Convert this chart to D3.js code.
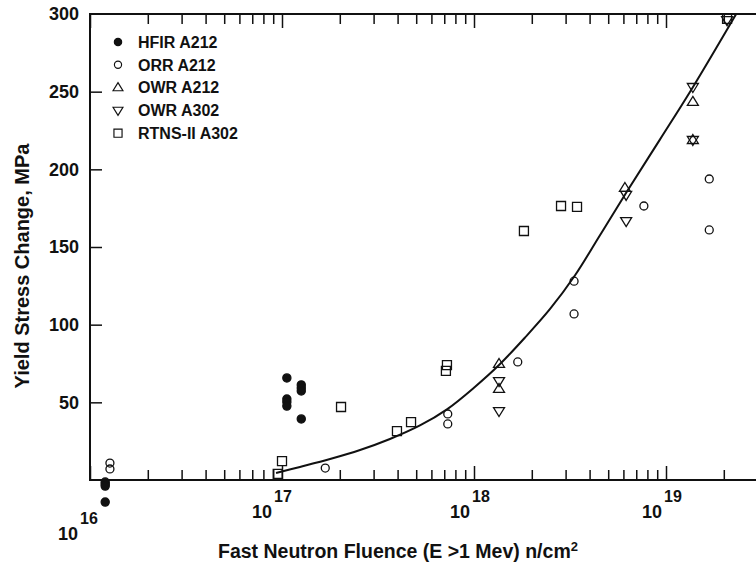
<!DOCTYPE html>
<html>
<head>
<meta charset="utf-8">
<script src="https://cdn.jsdelivr.net/npm/d3@7"></script>
<style>
  body { margin: 0; background: #fff; }
  text { font-family: "Liberation Sans", Arial, Helvetica, sans-serif; font-weight: bold; fill: #111; }
</style>
</head>
<body>
<div id="chart"></div>
<script>
// fluence (n/cm2) and yield stress change (MPa)
var hfirX = [1.2e16, 1.2e16, 1.2e16, 1.2e16, 1.06e17, 1.06e17, 1.06e17, 1.06e17, 1.26e17, 1.26e17, 1.26e17, 1.26e17];
var hfirY = [-1.3, -2.6, -3.9, -14.2, 65.7, 52.1, 50.2, 47.6, 61.2, 59.2, 57.3, 39.3];

var orrX = [1.27e16, 1.27e16, 1.68e17, 7.3e17, 7.3e17, 1.69e18, 3.32e18, 3.32e18, 7.67e18, 1.68e19, 1.68e19];
var orrY = [10.9, 7.1, 7.7, 42.5, 36.1, 76, 128, 106.9, 176.4, 193.8, 161];

var owr212X = [1.35e18, 1.35e18, 6.11e18, 1.38e19, 1.38e19];
var owr212Y = [74.7, 58.6, 188, 243.4, 218.9];

var owr302X = [1.35e18, 1.35e18, 6.2e18, 6.2e18, 1.38e19, 1.38e19, 2.08e19];
var owr302Y = [63.7, 44.4, 183.5, 166.7, 253, 218.9, 296];

var rtnsX = [9.5e16, 1.0e17, 2.03e17, 3.97e17, 4.7e17, 7.23e17, 7.14e17, 1.82e18, 2.84e18, 3.44e18, 2.08e19];
var rtnsY = [3.9, 12.2, 47, 31.5, 37.3, 74, 70.2, 160.3, 176.4, 175.8, 296.8];

// fitted trend line
var fitX = [9.31e16, 1.24e17, 1.78e17, 2.55e17, 3.65e17, 5.23e17, 7.23e17, 1.01e18, 1.35e18, 1.84e18, 2.49e18, 3.36e18, 4.53e18, 6.26e18, 9.31e18, 1.38e19, 2.32e19];
var fitY = [4.5, 8.4, 13.5, 19.3, 26.4, 35.1, 45.5, 59.9, 74.0, 91.6, 110.1, 131.8, 157.6, 185.7, 219.3, 252.9, 300];

var legendNames = ["HFIR A212", "ORR A212", "OWR A212", "OWR A302", "RTNS-II A302"];
var yTicks = [50, 100, 150, 200, 250, 300];
var decades = [1e16, 1e17, 1e18, 1e19];
var decadeExp = ["16", "17", "18", "19"];

var W = 756, H = 563;
var plotL = 90, plotR = 756, plotT = 14, plotB = 480;

var x = d3.scaleLog().domain([1e16, 1e19]).range([plotL, 666]);
var y = d3.scaleLinear().domain([0, 300]).range([plotB, plotT]);

var svg = d3.select("#chart").append("svg")
  .attr("width", W)
  .attr("height", H);

svg.append("rect").attr("width", W).attr("height", H).attr("fill", "#fff");

// symbol shapes
var shapes = {
  filled: d3.symbol().type(d3.symbolCircle).size(52)(),
  circle: d3.symbol().type(d3.symbolCircle).size(50)(),
  up: "M0,-5.5L5.5,3.5L-5.5,3.5Z",
  down: "M0,5.5L5.5,-3.5L-5.5,-3.5Z",
  square: "M-4.5,-4.5h9v9h-9Z"
};
var series = [
  { xs: hfirX, ys: hfirY, shape: "filled" },
  { xs: orrX, ys: orrY, shape: "circle" },
  { xs: owr212X, ys: owr212Y, shape: "up" },
  { xs: owr302X, ys: owr302Y, shape: "down" },
  { xs: rtnsX, ys: rtnsY, shape: "square" }
];

// minor + major ticks for log axis
var logTicks = [];
for (var e = 16; e <= 19; e++) {
  for (var k = 1; k <= 9; k++) {
    var v = k * Math.pow(10, e);
    if (x(v) <= plotR) logTicks.push(v);
  }
}
var isMajor = function(d) { return Math.abs(Math.log10(d) % 1) < 1e-9; };

// bottom axis ticks
var bAxis = svg.append("g")
  .attr("transform", "translate(0," + plotB + ")")
  .call(d3.axisBottom(x).tickValues(logTicks).tickSize(-10).tickFormat(""));
bAxis.select(".domain").remove();
bAxis.selectAll(".tick line")
  .attr("y2", function(d) { return isMajor(d) ? -14 : -10; })
  .attr("stroke", "#111").attr("stroke-width", 1.5);

// top axis ticks
var tAxis = svg.append("g")
  .attr("transform", "translate(0," + plotT + ")")
  .call(d3.axisTop(x).tickValues(logTicks).tickSize(-10).tickFormat(""));
tAxis.select(".domain").remove();
tAxis.selectAll(".tick line")
  .attr("y2", function(d) { return isMajor(d) ? 14 : 10; })
  .attr("stroke", "#111").attr("stroke-width", 1.5);

// left axis
var lAxis = svg.append("g")
  .attr("transform", "translate(" + plotL + ",0)")
  .call(d3.axisLeft(y).tickValues(yTicks).tickSize(-12).tickPadding(11));
lAxis.select(".domain").remove();
lAxis.selectAll(".tick line")
  .attr("stroke", "#111").attr("stroke-width", 1.5)
  .filter(function(d) { return d == 300; }).remove();
lAxis.selectAll(".tick text")
  .style("font-size", "18px")
  .style("font-family", "'Liberation Sans', Arial, sans-serif")
  .style("font-weight", "bold")
  .attr("fill", "#111");

// frame lines
svg.append("line").attr("x1", plotL).attr("x2", plotL).attr("y1", plotT - 1).attr("y2", plotB + 1)
  .attr("stroke", "#111").attr("stroke-width", 2);
svg.append("line").attr("x1", plotL).attr("x2", plotR).attr("y1", plotB).attr("y2", plotB)
  .attr("stroke", "#111").attr("stroke-width", 2);
svg.append("line").attr("x1", plotL).attr("x2", plotR).attr("y1", plotT).attr("y2", plotT)
  .attr("stroke", "#111").attr("stroke-width", 2);

// decade labels 10^n  (first one sits lower, 10^17 sits a bit left in the original)
decades.forEach(function(d, i) {
  var px = x(d);
  var base = i == 0 ? 540 : 518;
  var shift = i == 0 ? -10 : (i == 1 ? -8 : -2);
  svg.append("text")
    .attr("x", px + shift - 2)
    .attr("y", base)
    .attr("text-anchor", "end")
    .style("font-size", "18px")
    .text("10");
  svg.append("text")
    .attr("x", px + shift)
    .attr("y", base - 16)
    .style("font-size", "16px")
    .text(decadeExp[i]);
});

// axis titles
svg.append("text")
  .attr("text-anchor", "middle")
  .attr("transform", "translate(29," + 266 + ")rotate(-90)")
  .style("font-size", "20px")
  .text("Yield Stress Change, MPa");

var xt = svg.append("text")
  .attr("x", 398)
  .attr("y", 558)
  .attr("text-anchor", "middle")
  .style("font-size", "19.5px");
xt.append("tspan").text("Fast Neutron Fluence (E >1 Mev) n/cm");
xt.append("tspan").attr("dy", -7).style("font-size", "13px").text("2");

// fit curve
var line = d3.line()
  .x(function(d, i) { return x(fitX[i]); })
  .y(function(d, i) { return y(fitY[i]); })
  .curve(d3.curveCatmullRom);
svg.append("path")
  .datum(fitX)
  .attr("d", line)
  .attr("fill", "none")
  .attr("stroke", "#111")
  .attr("stroke-width", 2);

// data points
series.forEach(function(s) {
  svg.selectAll(null)
    .data(s.xs)
    .enter()
    .append("path")
      .attr("d", shapes[s.shape])
      .attr("transform", function(d, i) { return "translate(" + x(d) + "," + y(s.ys[i]) + ")"; })
      .attr("fill", s.shape == "filled" ? "#111" : "none")
      .attr("stroke", "#111")
      .attr("stroke-width", 1.3);
});

// legend
var legend = svg.append("g");
legendNames.forEach(function(name, i) {
  var ly = 42 + i * 22.8;
  legend.append("path")
    .attr("d", shapes[series[i].shape])
    .attr("transform", "translate(118," + ly + ")scale(0.9)")
    .attr("fill", series[i].shape == "filled" ? "#111" : "none")
    .attr("stroke", "#111")
    .attr("stroke-width", 1.3);
  legend.append("text")
    .attr("x", 138)
    .attr("y", ly)
    .attr("dy", "0.36em")
    .style("font-size", "16px")
    .text(name);
});
</script>
</body>
</html>
